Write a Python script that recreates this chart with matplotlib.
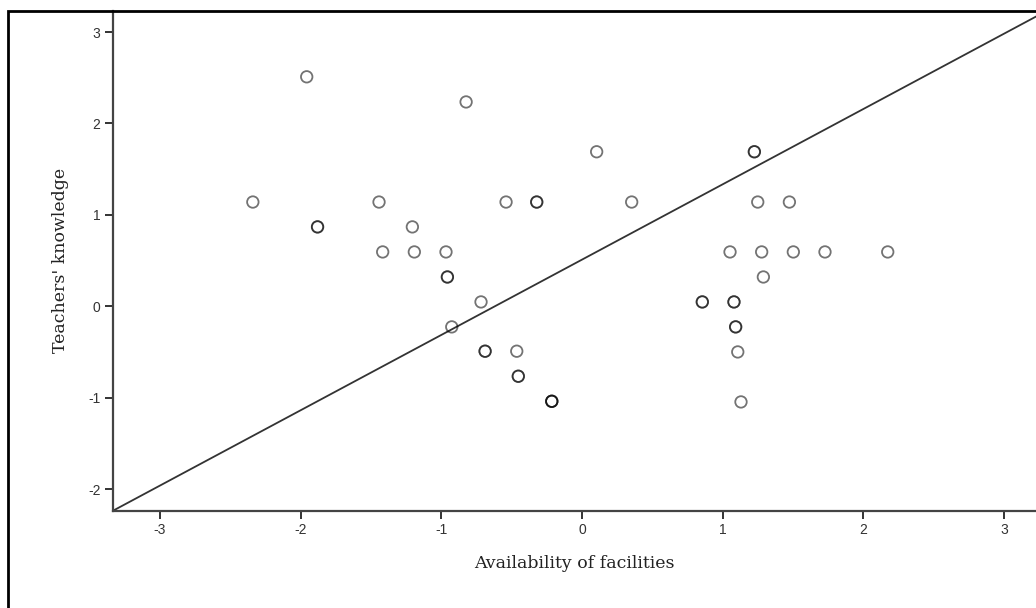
import matplotlib
matplotlib.use('Agg')
import matplotlib.pyplot as plt
from matplotlib.patches import Rectangle

plt.rcParams['axes.unicode_minus'] = False

# availability of facilities (x) vs teachers' knowledge (y); repeated pairs = overlapping cases
facilities = [-1.957, -0.824, -2.34, -1.88, -1.88, -1.443, -1.206, -1.417, -1.192, -0.967,
              -0.957, -0.957, -0.718, -0.926, -0.689, -0.689, -0.464, -0.453, -0.453,
              -0.215, -0.215, -0.215, -0.54, -0.322, -0.322, 0.104, 0.353,
              1.225, 1.225, 1.249, 1.474, 1.052, 1.277, 1.502, 1.727, 2.173, 1.289,
              0.855, 0.855, 1.08, 1.08, 1.092, 1.092, 1.107, 1.13]
knowledge = [2.51, 2.235, 1.14, 0.868, 0.868, 1.14, 0.868, 0.594, 0.594, 0.594,
             0.32, 0.32, 0.047, -0.226, -0.492, -0.492, -0.492, -0.766, -0.766,
             -1.04, -1.04, -1.04, 1.14, 1.14, 1.14, 1.69, 1.14,
             1.69, 1.69, 1.14, 1.14, 0.594, 0.594, 0.594, 0.594, 0.594, 0.32,
             0.047, 0.047, 0.047, 0.047, -0.226, -0.226, -0.5, -1.047]

line_intercept = 0.51
line_slope = 0.824
xlim = (-3.334, 3.227)
ylim = (-2.237, 3.23)

fig = plt.figure(figsize=(10.36, 6.08), dpi=100)
ax = fig.add_axes([113 / 1036, (608 - 510.7) / 608, (1036 - 113) / 1036, (510.7 - 11) / 608])

ax.scatter(facilities, knowledge, s=68, facecolors='none', edgecolors='black',
           linewidths=1.3, alpha=0.55, zorder=3)
ax.plot(list(xlim), [line_intercept + line_slope * v for v in xlim],
        color='#333333', lw=1.3, zorder=2)

ax.set_xlim(*xlim)
ax.set_ylim(*ylim)
ax.set_xticks([-3, -2, -1, 0, 1, 2, 3])
ax.set_yticks([-2, -1, 0, 1, 2, 3])
for s in ['top', 'right']:
    ax.spines[s].set_visible(False)
for s in ['left', 'bottom']:
    ax.spines[s].set_color('#444444')
    ax.spines[s].set_linewidth(1.6)
ax.tick_params(length=6, width=1.4, color='#333333', labelcolor='#333333',
               labelsize=10, pad=3)
for t in ax.get_xticklabels() + ax.get_yticklabels():
    t.set_family('Liberation Sans')

ax.set_xlabel('Availability of facilities', family='DejaVu Serif', fontsize=12.5,
              color='#222222', labelpad=13)
ax.set_ylabel("Teachers' knowledge", family='DejaVu Serif', fontsize=12.5,
              color='#222222', labelpad=14)

fig.patches.append(Rectangle((8 / 1036, -0.1), 1.2, (608 - 11) / 608 + 0.1,
                             transform=fig.transFigure, fill=False,
                             edgecolor='black', lw=2, zorder=10))

fig.savefig('out.png', dpi=100)
